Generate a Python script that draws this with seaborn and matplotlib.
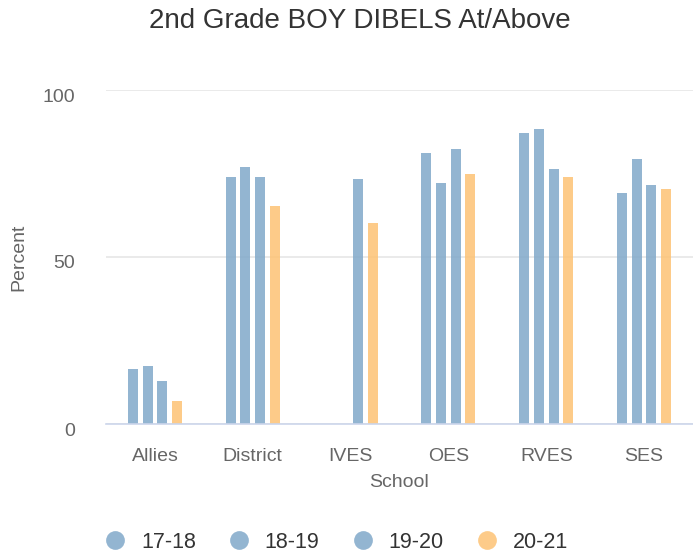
import numpy as np
import pandas as pd
import matplotlib
matplotlib.use("Agg")
import matplotlib.pyplot as plt
import matplotlib.transforms as mtransforms
from matplotlib.lines import Line2D
import seaborn as sns

schools = ["Allies", "District", "IVES", "OES", "RVES", "SES"]
years = ["17-18", "18-19", "19-20", "20-21"]
v_17_18 = [16.4, 73.9, np.nan, 81.0, 87.0, 69.1]
v_18_19 = [17.5, 76.9, np.nan, 72.1, 88.2, 79.2]
v_19_20 = [12.8, 73.9, 73.3, 82.2, 76.2, 71.5]
v_20_21 = [6.8, 65.4, 60.1, 74.9, 73.9, 70.3]
colors = ["#80a8c9", "#80a8c9", "#80a8c9", "#fdc274"]

rows = []
for yr, vals in zip(years, [v_17_18, v_18_19, v_19_20, v_20_21]):
    for s, v in zip(schools, vals):
        if not np.isnan(v):
            rows.append({"School": s, "Year": yr, "Percent": v})
df = pd.DataFrame(rows)

sns.set_theme(style="white")
plt.rcParams["font.family"] = ["Liberation Sans", "DejaVu Sans"]

W, H = 693, 557
fig = plt.figure(figsize=(W / 100, H / 100), dpi=100)
ax = fig.add_axes([106 / W, 1 - 424 / H, 587 / W, 334 / H])

sns.barplot(data=df, x="School", y="Percent", hue="Year", order=schools,
            hue_order=years, palette=colors, width=0.6, gap=0.32,
            linewidth=0, alpha=0.85, saturation=1, errorbar=None, ax=ax,
            legend=False, zorder=3)

ax.set_xlim(-0.5, 5.5)
ax.set_ylim(0, 100)
ax.set_yticks([0, 50, 100])
ax.yaxis.grid(True, color="#e6e6e6", linewidth=1.2, zorder=0)
ax.set_axisbelow(True)
for side in ["top", "right", "left"]:
    ax.spines[side].set_visible(False)
ax.spines["bottom"].set_color("#ccd6eb")
ax.spines["bottom"].set_linewidth(1.2)
ax.spines["bottom"].set_zorder(4)

ax.tick_params(axis="x", length=0, pad=17, labelsize=14, labelcolor="#666666")
ax.tick_params(axis="y", length=0, pad=22, labelsize=14, labelcolor="#666666")
offset = mtransforms.ScaledTranslation(0, -5 / 100, fig.dpi_scale_trans)
for lbl in ax.get_yticklabels():
    lbl.set_transform(lbl.get_transform() + offset)

ax.set_xlabel("School", fontsize=14, color="#666666")
ax.set_ylabel("Percent", fontsize=14, color="#666666")
ax.xaxis.set_label_coords(0.5, (424 - 474) / 334)
ax.yaxis.set_label_coords((27 - 106) / 587, 0.5)

fig.text(360 / W, 1 - 21 / H, "2nd Grade BOY DIBELS At/Above", fontsize=20,
         color="#333333", ha="center", va="center")

handles = [Line2D([], [], linestyle="none", marker="o", markersize=13.5,
                  markerfacecolor=c, markeredgewidth=0, alpha=0.85)
           for c in colors]
fig.legend(handles, years, loc="center", bbox_to_anchor=(336 / W, 1 - 542 / H),
           ncol=4, frameon=False, fontsize=15.5, handlelength=1.0,
           handletextpad=0.7, columnspacing=1.5, borderpad=0,
           labelcolor="#333333")

fig.savefig("out.png", dpi=100)
